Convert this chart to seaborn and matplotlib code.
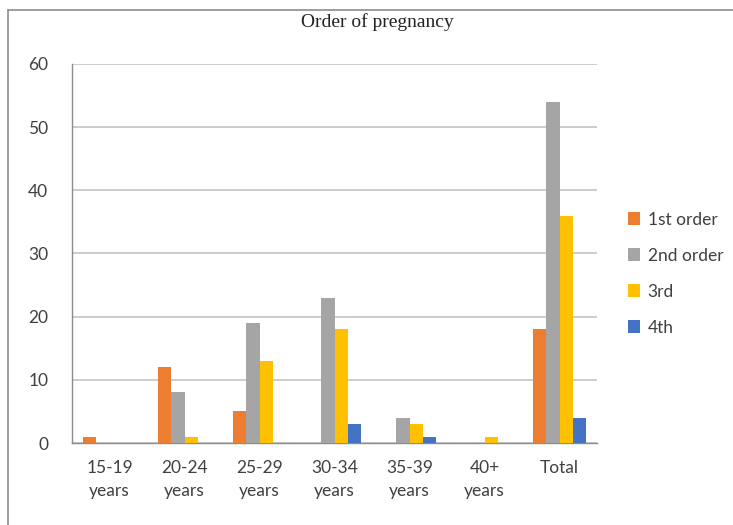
import matplotlib
matplotlib.use("Agg")
import matplotlib.pyplot as plt
from matplotlib.lines import Line2D
from matplotlib.patches import Patch
import seaborn as sns
import pandas as pd
import numpy as np

# Age groups and counts per pregnancy order
categories = ["15-19\nyears", "20-24\nyears", "25-29\nyears", "30-34\nyears",
              "35-39\nyears", "40+\nyears", "Total"]
series_names = ["1st order", "2nd order", "3rd", "4th"]
first_order = [1, 12, 5, 0, 0, 0, 18]
second_order = [0, 8, 19, 23, 4, 0, 54]
third_order = [0, 1, 13, 18, 3, 1, 36]
fourth_order = [0, 0, 0, 3, 1, 0, 4]
colors = ["#ED7D31", "#A5A5A5", "#FFC000", "#4472C4"]
y_ticks = [0, 10, 20, 30, 40, 50, 60]

rows = []
for name, vals in zip(series_names, [first_order, second_order, third_order, fourth_order]):
    for cat, v in zip(categories, vals):
        rows.append({"group": cat, "order": name, "count": v})
df = pd.DataFrame(rows)

sns.set_style("white")
plt.rcParams["font.family"] = ["Lato", "DejaVu Sans"]

fig = plt.figure(figsize=(7.33, 5.25), dpi=100)
ax = fig.add_axes([72 / 733, 1 - 443 / 525, (597 - 72) / 733, (443 - 64) / 525])

sns.barplot(data=df, x="group", y="count", hue="order", order=categories,
            hue_order=series_names, palette=colors, width=0.7,
            saturation=1, linewidth=0, ax=ax, legend=False, zorder=3)

ax.set_ylim(0, 60)
ax.set_xlim(-0.5, len(categories) - 0.5)
ax.set_yticks(y_ticks)
ax.set_yticklabels([str(t) for t in y_ticks], fontsize=12.5, color="#404040")
ax.set_xlabel("")
ax.set_ylabel("")
ax.tick_params(axis="x", length=0, labelsize=12.5, labelcolor="#404040", pad=12)
ax.tick_params(axis="y", length=7, width=1, color="#bfbfbf", pad=10, direction="out")
ax.set_xticks(np.arange(-0.5, len(categories)), minor=True)
ax.tick_params(axis="x", which="minor", length=7, width=1, color="#8c8c8c", direction="out")
for lbl in ax.get_xticklabels():
    lbl.set_linespacing(1.6)

ax.yaxis.grid(True, color="#c8c8c8", linewidth=1.3, zorder=0)
ax.xaxis.grid(False)
for side in ["top", "right"]:
    ax.spines[side].set_visible(False)
ax.spines["left"].set_color("#8c8c8c")
ax.spines["bottom"].set_color("#8c8c8c")
ax.spines["left"].set_linewidth(1)
ax.spines["bottom"].set_linewidth(1)
ax.set_axisbelow(True)

handles = [Patch(facecolor=c, edgecolor="none") for c in colors]
leg = fig.legend(handles, series_names, loc="upper left",
                 bbox_to_anchor=(612 / 733, 1 - 196 / 525), frameon=False,
                 fontsize=12.5, handlelength=0.7, handleheight=0.7,
                 handletextpad=0.45, labelspacing=1.15)
for t in leg.get_texts():
    t.set_color("#404040")

fig.text(0.515, 0.958, "Order of pregnancy", ha="center", va="center",
         fontsize=14, family=["Liberation Serif", "DejaVu Serif"], color="#222222")

# outer chart frame (top and left edges)
fig.add_artist(Line2D([8 / 733, 1], [1 - 10 / 525, 1 - 10 / 525],
                      transform=fig.transFigure, color="#8c8c8c", linewidth=1.2))
fig.add_artist(Line2D([8 / 733, 8 / 733], [0, 1 - 10 / 525],
                      transform=fig.transFigure, color="#8c8c8c", linewidth=1.2))

fig.savefig("out.png", dpi=100, facecolor="white")
